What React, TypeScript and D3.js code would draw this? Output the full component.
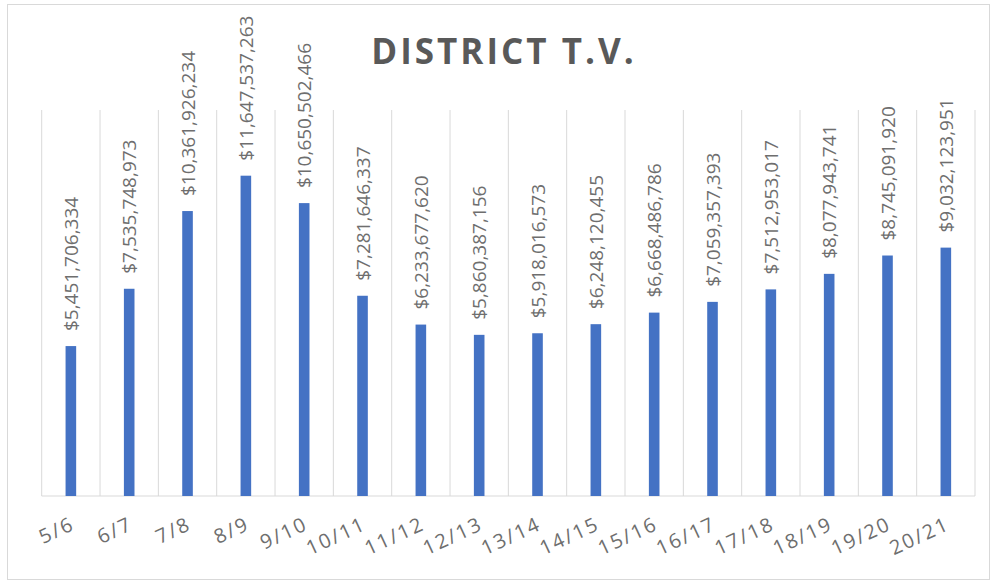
import React from "react";
import * as d3 from "d3";

const categories = ["5/6","6/7","7/8","8/9","9/10","10/11","11/12","12/13","13/14","14/15","15/16","16/17","17/18","18/19","19/20","20/21"];
const values = [5451706334,7535748973,10361926234,11647537263,10650502466,7281646337,6233677620,5860387156,5918016573,6248120455,6668486786,7059357393,7512953017,8077943741,8745091920,9032123951];
const yDomain = [0, 14000000000];
const title = "DISTRICT T.V.";

const W = 992, H = 582;
const left = 41.7, right = 975, top = 111, bottom = 496;

export default function App() {
  const x = d3.scaleBand<string>().domain(categories).range([left, right]).paddingInner(0).paddingOuter(0);
  const y = d3.scaleLinear().domain(yDomain).range([bottom, top]);
  const bw = 10.6;
  const fmt = d3.format(",");
  const font = "'Open Sans', sans-serif";
  const grey = "#595959";
  const lblGrey = "#6e6e6e";
  return (
    <svg width={W} height={H} style={{ position: "absolute", left: 0, top: 0, background: "#fff" }}>
      <rect x={7.5} y={4.5} width={982} height={575} fill="#fff" stroke="#d9d9d9" strokeWidth={1} />
      <text x={504} y={64} textAnchor="middle" fontFamily={font} fontWeight={700} fontSize={35} letterSpacing={3} fill={grey}>{title}</text>
      {categories.map((c, i) => (
        <line key={"g" + i} x1={x(c)!} x2={x(c)!} y1={top - 1} y2={bottom} stroke="#d9d9d9" strokeWidth={1} />
      ))}
      <line x1={right} x2={right} y1={top - 1} y2={bottom} stroke="#d9d9d9" strokeWidth={1} />
      <line x1={left} x2={right} y1={bottom} y2={bottom} stroke="#d9d9d9" strokeWidth={1} />
      {categories.map((c, i) => {
        const cx = x(c)! + x.bandwidth() / 2;
        return (
          <rect key={"b" + i} x={cx - bw / 2} y={y(values[i])} width={bw} height={bottom - y(values[i])} fill="#4472c4" />
        );
      })}
      {categories.map((c, i) => {
        const cx = x(c)! + x.bandwidth() / 2;
        const ty = y(values[i]) - 15;
        return (
          <text key={"l" + i} transform={`translate(${cx + 7},${ty}) rotate(-90)`} fontFamily={font} fontSize={19} fill={lblGrey}>
            {"$" + fmt(values[i])}
          </text>
        );
      })}
      {categories.map((c, i) => {
        const cx = x(c)! + x.bandwidth() / 2;
        return (
          <text key={"x" + i} transform={`translate(${cx - 1},${516}) rotate(-25)`} textAnchor="end" dy="0.71em" fontFamily={font} fontSize={20} letterSpacing={2} fill={lblGrey}>
            {c}
          </text>
        );
      })}
    </svg>
  );
}
